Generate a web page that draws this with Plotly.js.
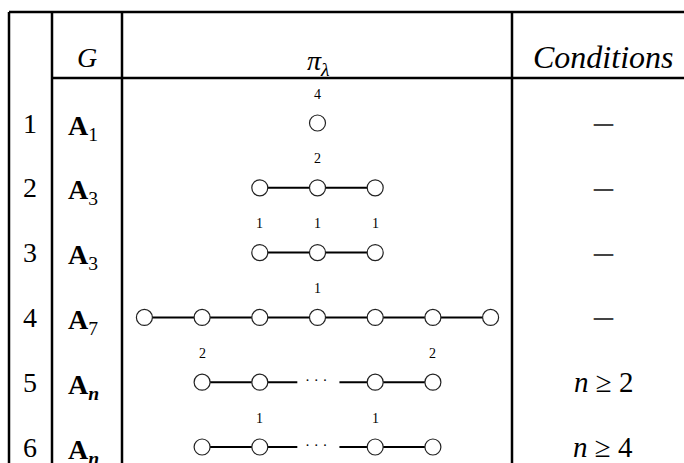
<!DOCTYPE html>
<html>
<head>
<meta charset="utf-8">
<script src="https://cdn.plot.ly/plotly-3.0.1.min.js"></script>
<style>html,body{margin:0;padding:0;background:#fff;}#chart{width:684px;height:463px;}</style>
</head>
<body>
<div id="chart"></div>
<script>
// ---- data ----
const rowNumbers = ["1", "2", "3", "4", "5", "6"];
const groupLetters = ["A", "A", "A", "A", "A", "A"];
const groupIndices = ["1", "3", "3", "7", "n", "n"];
const GAP = "…"; // ellipsis slot in a diagram
const diagram1 = ["4"];
const diagram2 = ["", "2", ""];
const diagram3 = ["1", "1", "1"];
const diagram4 = ["", "", "", "1", "", "", ""];
const diagram5 = ["2", "", GAP, "", "2"];
const diagram6 = ["", "1", GAP, "1", ""];
const diagrams = [diagram1, diagram2, diagram3, diagram4, diagram5, diagram6];
const conditions = ["–", "–", "–", "–", "<i>n</i> ≥ 2", "<i>n</i> ≥ 4"];
const headers = ["<i>G</i>", "<i>π</i><sub><i>λ</i></sub>", "<i>Conditions</i>"];

// ---- layout geometry (pixel space) ----
const W = 684, H = 463;
const FONT = "Liberation Serif";
const row0 = 123, rowStep = 64.8;
const cx = 317.5, slotStep = 57.7;
const rowY = i => row0 + i * rowStep;
const slotX = (k, n) => cx + (k - (n - 1) / 2) * slotStep;

const traces = [];
const annotations = [];

// edges
const ex = [], ey = [];
diagrams.forEach((d, r) => {
  const y = rowY(r), n = d.length;
  for (let k = 0; k < n - 1; k++) {
    const a = d[k], b = d[k + 1];
    let x0 = slotX(k, n), x1 = slotX(k + 1, n);
    if (a === GAP && b === GAP) continue;
    if (b === GAP) x1 = x0 + 0.65 * slotStep;
    if (a === GAP) x0 = x1 - 0.62 * slotStep;
    ex.push(x0, x1, null); ey.push(y, y, null);
  }
});
traces.push({x: ex, y: ey, mode: "lines", line: {color: "#000", width: 2}, hoverinfo: "skip", showlegend: false});

// nodes
const nx = [], ny = [];
diagrams.forEach((d, r) => {
  d.forEach((m, k) => {
    if (m === GAP) {
      annotations.push({x: slotX(k, d.length) - 1, y: rowY(r) - 2, text: "· · ·", showarrow: false,
        font: {family: FONT, size: 15, color: "#000"}, xanchor: "center", yanchor: "middle"});
      return;
    }
    nx.push(slotX(k, d.length)); ny.push(rowY(r));
    if (m !== "") {
      annotations.push({x: slotX(k, d.length), y: rowY(r) - 29, text: m, showarrow: false,
        font: {family: FONT, size: 14, color: "#000"}, xanchor: "center", yanchor: "middle"});
    }
  });
});
traces.push({x: nx, y: ny, mode: "markers", hoverinfo: "skip", showlegend: false,
  marker: {symbol: "circle", size: 16, color: "#fff", line: {color: "#222", width: 1.2}}});

// row numbers, groups, conditions
rowNumbers.forEach((t, r) => {
  annotations.push({x: 30, y: rowY(r), text: t, showarrow: false,
    font: {family: FONT, size: 28, color: "#000"}, xanchor: "center", yanchor: "middle"});
  annotations.push({x: 66, y: rowY(r) + 4, text: "<b>" + groupLetters[r] + "</b><sub>" + (groupIndices[r] === "n" ? "<b><i>n</i></b>" : groupIndices[r]) + "</sub>",
    showarrow: false, font: {family: FONT, size: 28, color: "#000"}, xanchor: "left", yanchor: "middle"});
  const isDash = r < 4;
  annotations.push({x: 603, y: rowY(r) - (isDash ? 2 : 0), text: conditions[r], showarrow: false,
    font: {family: FONT, size: isDash ? 38 : 29, color: isDash ? "#444" : "#000"}, xanchor: "center", yanchor: "middle"});
});

// headers
const headerX = [87, 318, 603];
headers.forEach((t, i) => {
  annotations.push({x: headerX[i], y: i === 1 ? 62 : 57, text: t, showarrow: false,
    font: {family: FONT, size: i === 2 ? 32 : 28, color: "#000"}, xanchor: "center", yanchor: "middle"});
});

// table rules
const L = {color: "#000", width: 2.5};
const shapes = [
  {type: "line", x0: 9, x1: W, y0: 12, y1: 12, line: L},
  {type: "line", x0: 52, x1: W, y0: 78, y1: 78, line: L},
  {type: "line", x0: 9, x1: 9, y0: 12, y1: H, line: L},
  {type: "line", x0: 52, x1: 52, y0: 12, y1: H, line: L},
  {type: "line", x0: 122, x1: 122, y0: 12, y1: H, line: L},
  {type: "line", x0: 512, x1: 512, y0: 12, y1: H, line: L}
].map(s => Object.assign({xref: "x", yref: "y", layer: "below"}, s));

const layout = {
  width: W, height: H, autosize: false,
  margin: {l: 0, r: 0, t: 0, b: 0, pad: 0},
  paper_bgcolor: "#fff", plot_bgcolor: "#fff",
  xaxis: {range: [0, W], visible: false, fixedrange: true},
  yaxis: {range: [H, 0], visible: false, fixedrange: true},
  shapes: shapes, annotations: annotations, showlegend: false
};
Plotly.newPlot("chart", traces, layout, {displayModeBar: false, staticPlot: true});
</script>
</body>
</html>
